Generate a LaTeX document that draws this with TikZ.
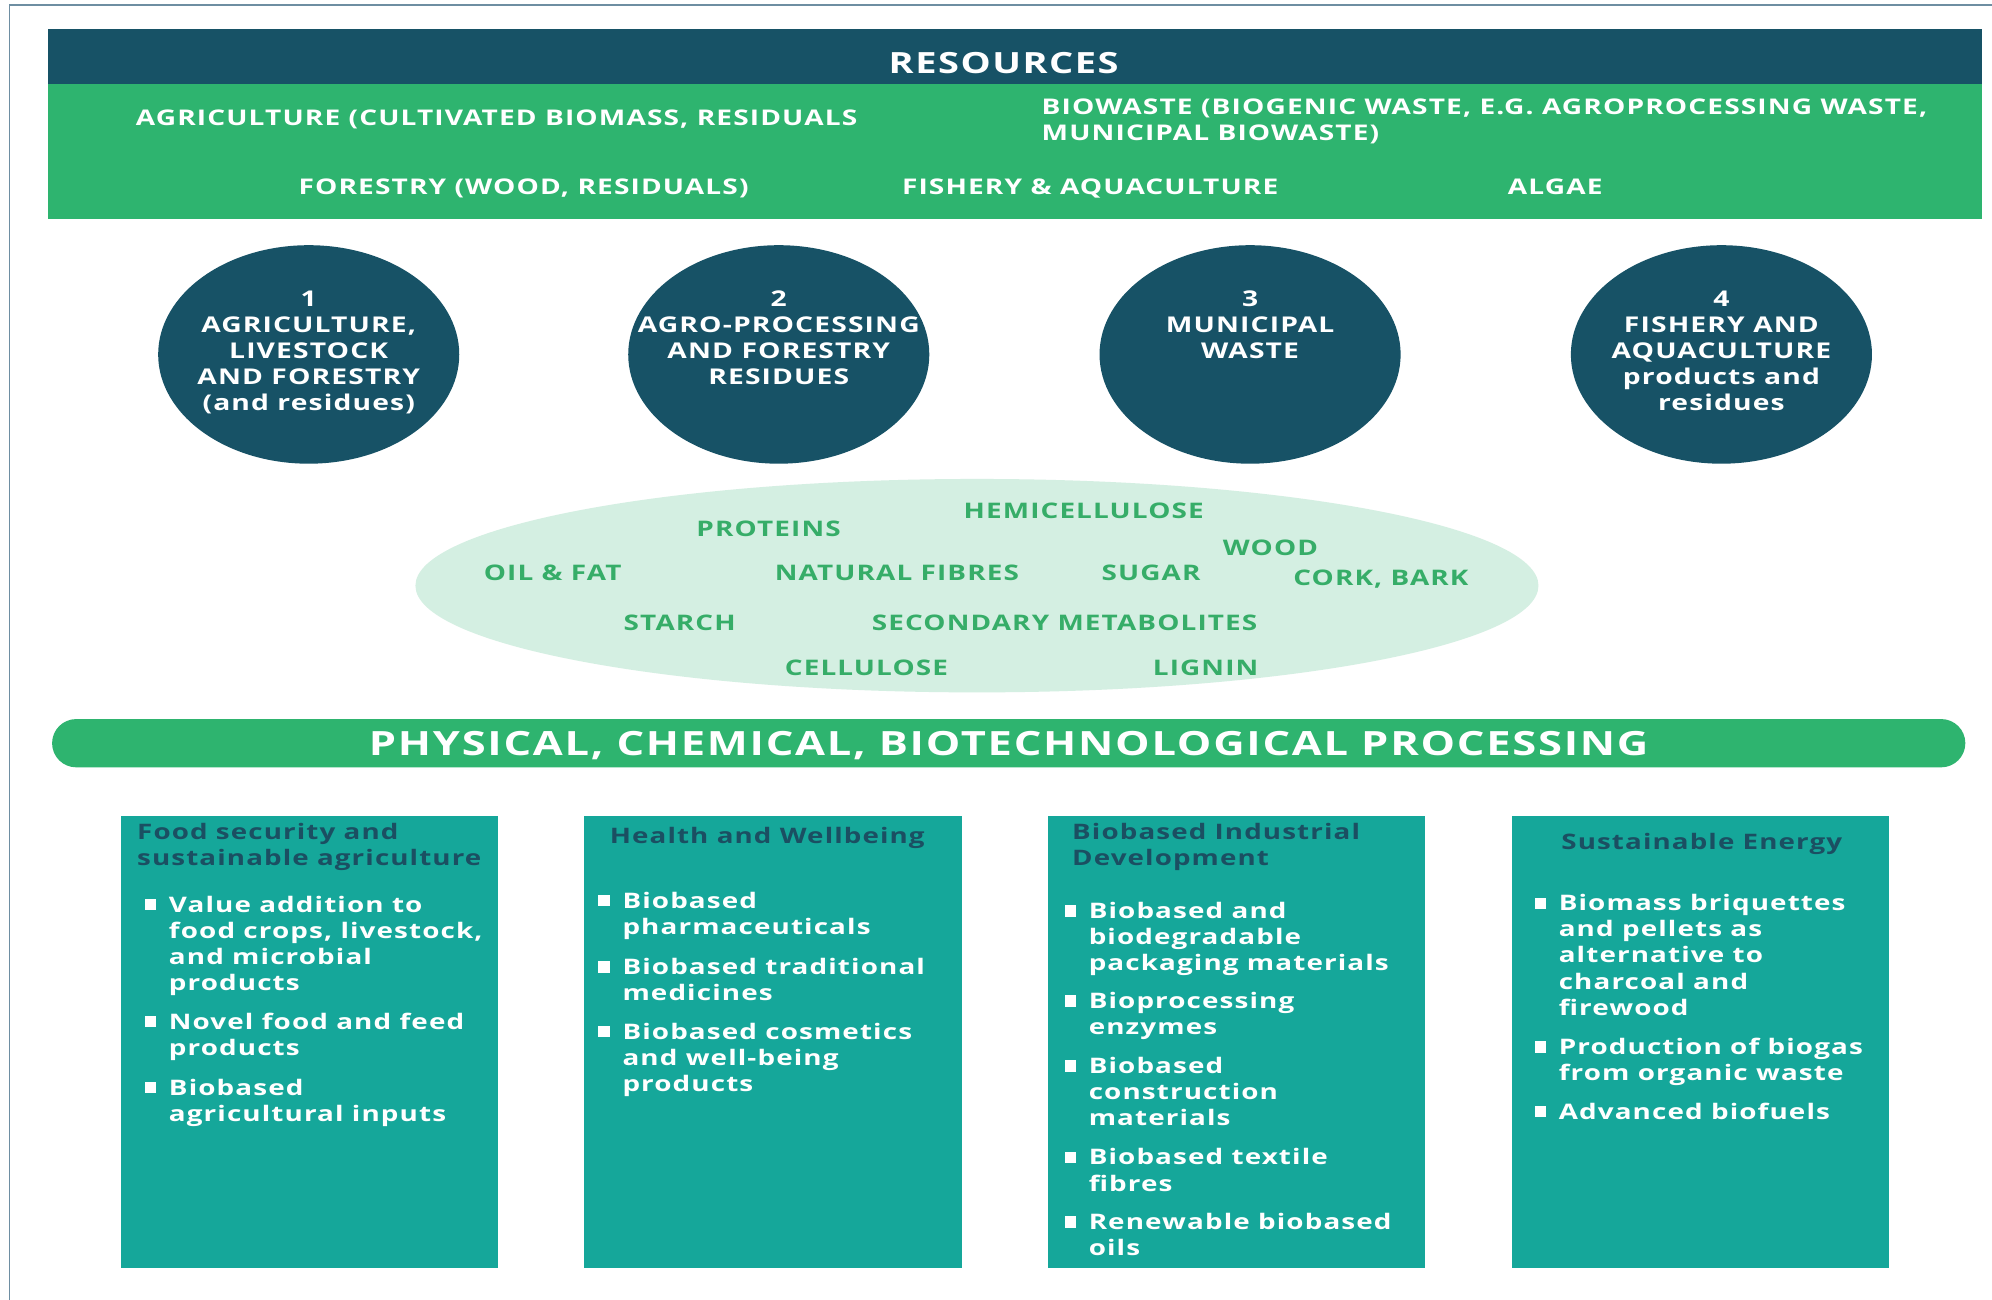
\documentclass[tikz,border=0pt]{standalone}
\usepackage{graphicx}
\usepackage{fontspec}
\setmainfont{Open Sans}
\newfontfamily\osb{Open Sans}[LetterSpace=4]
\usetikzlibrary{shapes.geometric}
\definecolor{dkteal}{HTML}{175266}
\definecolor{grn}{HTML}{2EB46F}
\definecolor{mint}{HTML}{D4EFE2}
\definecolor{etxt}{HTML}{36AD68}
\definecolor{tealbox}{HTML}{15A79A}
\definecolor{ttl}{HTML}{1B4F62}
\definecolor{brd}{HTML}{6E8EA2}
\newcommand{\sx}[1]{\scalebox{1.3}[1]{#1}}
\newcommand{\blist}[3]{%
  \fill[white] (#1-19,#2-4.5) rectangle ++(9,9);
  \foreach \t [count=\i from 0] in {#3} {
    \node[btxt, name=L#1-#2-\i] at (#1,#2+6+\i*20.5) {\sx{\t}};}}
\newcommand{\tlist}[3]{%
  \foreach \t [count=\i from 0] in {#3} {
    \node[ttxt, name=T#1-#2-\i] at (#1,#2+6+\i*20.5) {\sx{\t}};}}
\newcommand{\clist}[3]{%
  \foreach \t [count=\i from 0] in {#3} {
    \node[ctxt, name=C#1-\i] at (#1,#2+6+\i*20.5) {\sx{\t}};}}
\begin{document}
\begin{tikzpicture}[x=1pt,y=-1pt,
  every node/.style={inner sep=0pt,outer sep=0pt},
  band/.style={text=white,anchor=base west,font=\osb\bfseries\fontsize{17}{20}\selectfont},
  ctxt/.style={text=white,anchor=base,font=\osb\bfseries\fontsize{17.1}{20}\selectfont},
  etx/.style={text=etxt,anchor=base,font=\osb\bfseries\fontsize{16.9}{20}\selectfont},
  btxt/.style={text=white,anchor=base west,font=\osb\bfseries\fontsize{16.85}{20}\selectfont},
  ttxt/.style={text=ttl,anchor=base west,font=\osb\bfseries\fontsize{16.8}{20}\selectfont},
  circ/.style={ellipse,fill=dkteal,minimum width=237pt,minimum height=172pt},
  pbox/.style={fill=tealbox,minimum width=297pt,minimum height=356pt,anchor=north west}]
\useasboundingbox (0,0) rectangle (1568,1023);
\fill[white] (0,0) rectangle (1568,1023);
\draw[brd,line width=1.5pt] (7.5,1023) -- (7.5,4) -- (1568,4);
% resources header
\fill[dkteal] (38,23) rectangle (1560,66);
\fill[grn] (38,66) rectangle (1560,172);
\node[text=white,anchor=base,font=\osb\bfseries\fontsize{23}{24}\selectfont] (res) at (790,58) {\sx{RESOURCES}};
\node[band] (agr) at (107,99) {\sx{AGRICULTURE (CULTIVATED BIOMASS, RESIDUALS}};
\node[band] (bio1) at (820,90) {\sx{BIOWASTE (BIOGENIC WASTE, E.G. AGROPROCESSING WASTE,}};
\node[band] (bio2) at (820,110.5) {\sx{MUNICIPAL BIOWASTE)}};
\node[band] (for) at (235,153) {\sx{FORESTRY (WOOD, RESIDUALS)}};
\node[band] (fis) at (710,153) {\sx{FISHERY \& AQUACULTURE}};
\node[band] (alg) at (1187,153) {\sx{ALGAE}};
% circles
\node[circ] (c1) at (243,279) {};
\node[circ] (c2) at (613,279) {};
\node[circ] (c3) at (984,279) {};
\node[circ] (c4) at (1355,279) {};
\clist{243}{235}{1,{AGRICULTURE,},LIVESTOCK,AND FORESTRY,(and residues)}
\clist{613}{235}{2,AGRO-PROCESSING,AND FORESTRY,RESIDUES}
\clist{984}{235}{3,MUNICIPAL,WASTE}
\clist{1355}{235}{4,FISHERY AND,AQUACULTURE,products and,residues}
% components ellipse
\node[ellipse,fill=mint,minimum width=884pt,minimum height=168pt] (ell) at (769,461) {};
\node[etx] (e1) at (605,422) {\sx{PROTEINS}};
\node[etx] (e2) at (853,408) {\sx{HEMICELLULOSE}};
\node[etx] (e3) at (1000,437) {\sx{WOOD}};
\node[etx] (e4) at (435,457) {\sx{OIL \& FAT}};
\node[etx] (e5) at (706,457) {\sx{NATURAL FIBRES}};
\node[etx] (e6) at (906,457) {\sx{SUGAR}};
\node[etx] (e7) at (1087,461) {\sx{CORK, BARK}};
\node[etx] (e8) at (535,496) {\sx{STARCH}};
\node[etx] (e9) at (838,496) {\sx{SECONDARY METABOLITES}};
\node[etx] (e10) at (682,532) {\sx{CELLULOSE}};
\node[etx] (e11) at (949,532) {\sx{LIGNIN}};
% processing bar
\node[fill=grn,rounded corners=19pt,minimum width=1506pt,minimum height=38pt] (proc) at (794,585) {};
\node[text=white,anchor=base,font=\osb\bfseries\fontsize{26.3}{30}\selectfont] (proct) at (794,594.5) {\sx{PHYSICAL, CHEMICAL, BIOTECHNOLOGICAL PROCESSING}};
% boxes
\node[pbox] (b1) at (95,642) {};
\node[pbox] (b2) at (460,642) {};
\node[pbox] (b3) at (825,642) {};
\node[pbox] (b4) at (1190,642) {};
\tlist{108}{655}{Food security and,sustainable agriculture}
\tlist{480}{658}{Health and Wellbeing}
\tlist{844}{655}{Biobased Industrial,Development}
\tlist{1229}{663}{Sustainable Energy}
\blist{133}{712}{Value addition to,{food crops, livestock,},and microbial,products}
\blist{133}{804}{Novel food and feed,products}
\blist{133}{856}{Biobased,agricultural inputs}
\blist{490}{709}{Biobased,pharmaceuticals}
\blist{490}{761}{Biobased traditional,medicines}
\blist{490}{812}{Biobased cosmetics,and well-being,products}
\blist{857}{717}{Biobased and,biodegradable,packaging materials}
\blist{857}{788}{Bioprocessing,enzymes}
\blist{857}{839}{Biobased,construction,materials}
\blist{857}{911}{Biobased textile,fibres}
\blist{857}{962}{Renewable biobased,oils}
\blist{1227}{711}{Biomass briquettes,and pellets as,alternative to,charcoal and,firewood}
\blist{1227}{824}{Production of biogas,from organic waste}
\blist{1227}{875}{Advanced biofuels}
\end{tikzpicture}
\end{document}
